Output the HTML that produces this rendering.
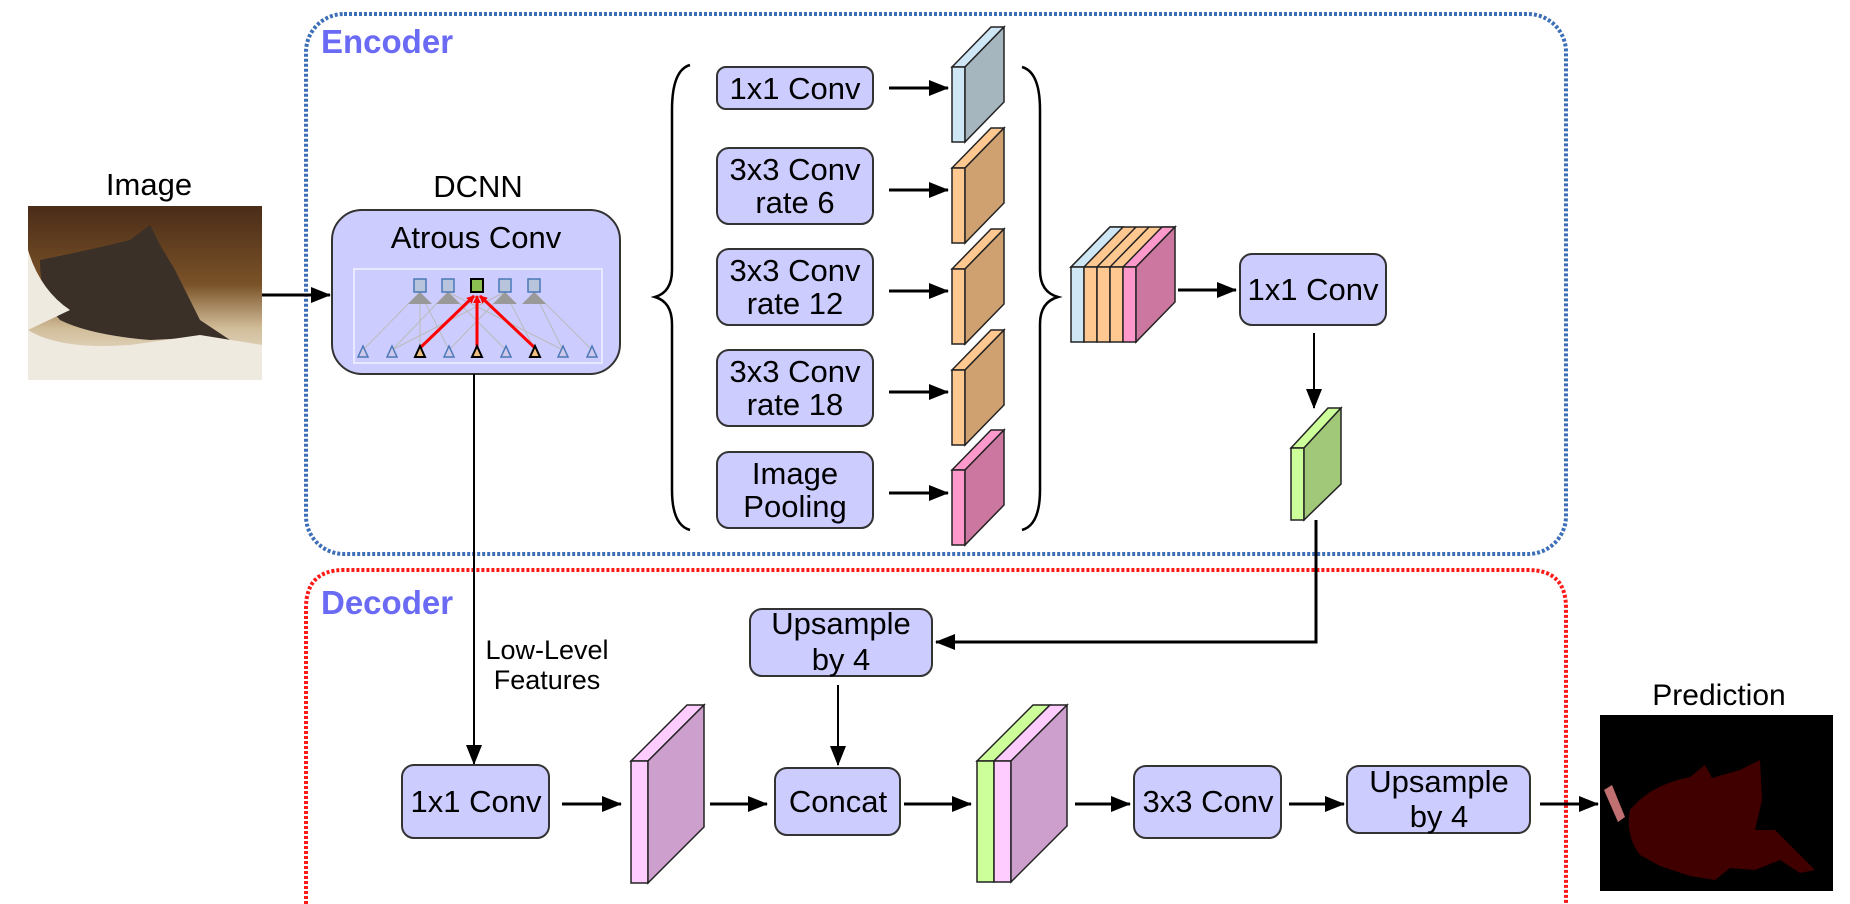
<!DOCTYPE html>
<html><head><meta charset="utf-8"><style>
html,body{margin:0;padding:0;background:#fff;}
svg{display:block;}
text{font-family:"Liberation Sans",sans-serif;}
</style></head><body>
<svg width="1850" height="904" viewBox="0 0 1850 904" xmlns="http://www.w3.org/2000/svg">
<defs>
<marker id="ab" markerWidth="20" markerHeight="16" refX="19" refY="8" orient="auto" markerUnits="userSpaceOnUse">
<path d="M0,0 L20,8 L0,16 z" fill="#000"/></marker>
<marker id="ar" markerWidth="8" markerHeight="8" refX="7" refY="4" orient="auto" markerUnits="userSpaceOnUse">
<path d="M0,0 L8,4 L0,8 z" fill="#f00"/></marker>
</defs>

<!-- Encoder / Decoder borders -->
<rect x="306" y="14" width="1260" height="540" rx="38" fill="none" stroke="#3d6fb8" stroke-width="4" stroke-dasharray="3 2"/>
<path d="M306,904 L306,608 Q306,570 344,570 L1528,570 Q1566,570 1566,608 L1566,904" fill="none" stroke="#ff1a1a" stroke-width="4" stroke-dasharray="3 2"/>
<text x="321" y="53" font-size="33" font-weight="bold" fill="#6a6af5">Encoder</text>
<text x="321" y="614" font-size="33" font-weight="bold" fill="#6a6af5">Decoder</text>

<!-- Input image -->
<text x="149" y="195" font-size="31" text-anchor="middle">Image</text>
<defs><linearGradient id="cat" x1="0" y1="0" x2="0" y2="1">
<stop offset="0" stop-color="#4a2c18"/><stop offset="0.45" stop-color="#7a5228"/><stop offset="0.7" stop-color="#d0bc98"/><stop offset="1" stop-color="#f2eee4"/></linearGradient></defs>
<rect x="28" y="206" width="234" height="174" fill="url(#cat)"/>
<path d="M40,260 Q90,250 130,240 L150,225 L160,245 L175,270 Q190,300 200,320 L230,340 L215,348 L190,338 L150,340 Q90,335 60,320 Q40,300 40,260z" fill="#3a3028"/>
<path d="M28,330 Q60,350 130,345 L200,335 L262,345 L262,380 L28,380z" fill="#efeae0"/>
<path d="M28,250 Q40,290 70,310 L28,330z" fill="#efeae0"/>

<line x1="262" y1="295" x2="330" y2="295" stroke="#000" stroke-width="3" marker-end="url(#ab)"/>

<!-- DCNN -->
<text x="478" y="197" font-size="31" text-anchor="middle">DCNN</text>
<rect x="332" y="210" width="288" height="164" rx="30" fill="#ccccff" stroke="#333" stroke-width="2"/>
<text x="476" y="248" font-size="31" text-anchor="middle">Atrous Conv</text>
<rect x="354" y="269" width="248" height="94" fill="none" stroke="#e8e8ff" stroke-width="2"/>
<g stroke="#bbb" stroke-width="1">
<line x1="363" y1="350" x2="420" y2="292"/><line x1="392" y1="350" x2="448" y2="292"/><line x1="420" y1="350" x2="420" y2="292"/>
<line x1="449" y1="350" x2="505" y2="292"/><line x1="506" y1="350" x2="448" y2="292"/><line x1="535" y1="350" x2="505" y2="292"/>
<line x1="563" y1="350" x2="534" y2="292"/><line x1="592" y1="350" x2="534" y2="292"/><line x1="449" y1="350" x2="420" y2="292"/>
<line x1="392" y1="350" x2="505" y2="292"/><line x1="563" y1="350" x2="448" y2="292"/>
</g>
<g fill="#999">
<path d="M408,304 L420,292 L432,304z"/><path d="M436,304 L448,292 L460,304z"/><path d="M493,304 L505,292 L517,304z"/><path d="M522,304 L534,292 L546,304z"/>
</g>
<g stroke="#f00" stroke-width="3">
<line x1="420" y1="348" x2="474" y2="296" marker-end="url(#ar)"/>
<line x1="477" y1="348" x2="477" y2="296" marker-end="url(#ar)"/>
<line x1="535" y1="348" x2="480" y2="296" marker-end="url(#ar)"/>
</g>
<g fill="#b8c4dc" stroke="#4a78b8" stroke-width="1.5">
<rect x="414" y="279" width="12" height="13"/><rect x="442" y="279" width="12" height="13"/><rect x="499" y="279" width="12" height="13"/><rect x="528" y="279" width="12" height="13"/>
</g>
<rect x="471" y="279" width="12" height="13" fill="#8cc050" stroke="#000" stroke-width="2"/>
<g fill="#d0c8e8" stroke="#4a78b8" stroke-width="1.5">
<path d="M363,346 L358,357 L368,357z"/><path d="M392,346 L387,357 L397,357z"/><path d="M449,346 L444,357 L454,357z"/>
<path d="M506,346 L501,357 L511,357z"/><path d="M563,346 L558,357 L568,357z"/><path d="M592,346 L587,357 L597,357z"/>
</g>
<g fill="#f0c080" stroke="#000" stroke-width="2">
<path d="M420,346 L415,357 L425,357z"/><path d="M477,346 L472,357 L482,357z"/><path d="M535,346 L530,357 L540,357z"/>
</g>

<!-- braces -->
<path d="M690,65 Q672,70 672,110 L672,270 Q672,292 655,297 Q672,302 672,324 L672,490 Q672,525 690,530" fill="none" stroke="#000" stroke-width="2.5"/>
<path d="M1022,67 Q1040,72 1040,110 L1040,270 Q1040,292 1058,297 Q1040,302 1040,324 L1040,490 Q1040,525 1022,530" fill="none" stroke="#000" stroke-width="2.5"/>

<!-- ASPP boxes -->
<g fill="#ccccff" stroke="#333" stroke-width="2">
<rect x="717" y="67" width="156" height="42" rx="9"/>
<rect x="717" y="148" width="156" height="76" rx="12"/>
<rect x="717" y="249" width="156" height="76" rx="12"/>
<rect x="717" y="350" width="156" height="76" rx="12"/>
<rect x="717" y="452" width="156" height="76" rx="12"/>
</g>
<g font-size="31" text-anchor="middle">
<text x="795" y="99">1x1 Conv</text>
<text x="795" y="180">3x3 Conv</text><text x="795" y="213">rate 6</text>
<text x="795" y="281">3x3 Conv</text><text x="795" y="314">rate 12</text>
<text x="795" y="382">3x3 Conv</text><text x="795" y="415">rate 18</text>
<text x="795" y="484">Image</text><text x="795" y="517">Pooling</text>
</g>
<g stroke="#000" stroke-width="3">
<line x1="889" y1="88" x2="948" y2="88" marker-end="url(#ab)"/>
<line x1="889" y1="190" x2="948" y2="190" marker-end="url(#ab)"/>
<line x1="889" y1="291" x2="948" y2="291" marker-end="url(#ab)"/>
<line x1="889" y1="392" x2="948" y2="392" marker-end="url(#ab)"/>
<line x1="889" y1="493" x2="948" y2="493" marker-end="url(#ab)"/>
</g>

<!-- slabs -->
<g stroke="#222" stroke-width="1.5">
<path d="M952,67 L991,27 L1004,27 L965,67z" fill="#cfe6f5"/><rect x="952" y="67" width="13" height="75" fill="#cfe6f5"/><path d="M965,67 L1004,27 L1004,102 L965,142z" fill="#a6b6bf"/>
<path d="M952,168 L991,128 L1004,128 L965,168z" fill="#ffc890"/><rect x="952" y="168" width="13" height="75" fill="#ffc890"/><path d="M965,168 L1004,128 L1004,203 L965,243z" fill="#cfa070"/>
<path d="M952,269 L991,229 L1004,229 L965,269z" fill="#ffc890"/><rect x="952" y="269" width="13" height="75" fill="#ffc890"/><path d="M965,269 L1004,229 L1004,304 L965,344z" fill="#cfa070"/>
<path d="M952,370 L991,330 L1004,330 L965,370z" fill="#ffc890"/><rect x="952" y="370" width="13" height="75" fill="#ffc890"/><path d="M965,370 L1004,330 L1004,405 L965,445z" fill="#cfa070"/>
<path d="M952,470 L991,430 L1004,430 L965,470z" fill="#ff99cc"/><rect x="952" y="470" width="13" height="75" fill="#ff99cc"/><path d="M965,470 L1004,430 L1004,505 L965,545z" fill="#cc77a0"/>
</g>

<!-- concat stack -->
<g stroke="#222" stroke-width="1.5">
<path d="M1071,267 L1110,227 L1175,227 L1136,267z" fill="#ffc890"/>
<path d="M1071,267 L1110,227 L1123,227 L1084,267z" fill="#cfe6f5"/>
<path d="M1123,267 L1162,227 L1175,227 L1136,267z" fill="#ff99cc"/>
<line x1="1097" y1="267" x2="1136" y2="227"/><line x1="1110" y1="267" x2="1149" y2="227"/>
<rect x="1071" y="267" width="13" height="75" fill="#cfe6f5"/>
<rect x="1084" y="267" width="13" height="75" fill="#ffc890"/>
<rect x="1097" y="267" width="13" height="75" fill="#ffc890"/>
<rect x="1110" y="267" width="13" height="75" fill="#ffc890"/>
<rect x="1123" y="267" width="13" height="75" fill="#ff99cc"/>
<path d="M1136,267 L1175,227 L1175,302 L1136,342z" fill="#cc77a0"/>
</g>
<line x1="1178" y1="290" x2="1236" y2="290" stroke="#000" stroke-width="3" marker-end="url(#ab)"/>
<rect x="1240" y="254" width="146" height="71" rx="12" fill="#ccccff" stroke="#333" stroke-width="2"/>
<text x="1313" y="300" font-size="31" text-anchor="middle">1x1 Conv</text>
<line x1="1314" y1="333" x2="1314" y2="408" stroke="#000" stroke-width="2" marker-end="url(#ab)"/>

<!-- green slab -->
<g stroke="#222" stroke-width="1.5">
<path d="M1291,448 L1328,408 L1341,408 L1304,448z" fill="#ccff99"/>
<rect x="1291" y="448" width="13" height="72" fill="#ccff99"/>
<path d="M1304,448 L1341,408 L1341,484 L1304,520z" fill="#a0c878"/>
</g>
<polyline points="1316,520 1316,642 936,642" fill="none" stroke="#000" stroke-width="3" marker-end="url(#ab)"/>

<!-- decoder -->
<line x1="474" y1="374" x2="474" y2="764" stroke="#000" stroke-width="2" marker-end="url(#ab)"/>
<text x="547" y="659" font-size="27" text-anchor="middle">Low-Level</text>
<text x="547" y="689" font-size="27" text-anchor="middle">Features</text>

<g fill="#ccccff" stroke="#333" stroke-width="2">
<rect x="750" y="609" width="182" height="67" rx="12"/>
<rect x="775" y="768" width="125" height="67" rx="12"/>
<rect x="402" y="765" width="147" height="73" rx="12"/>
<rect x="1134" y="766" width="147" height="72" rx="12"/>
<rect x="1347" y="766" width="183" height="67" rx="12"/>
</g>
<g font-size="31" text-anchor="middle">
<text x="841" y="634">Upsample</text><text x="841" y="670">by 4</text>
<text x="838" y="812">Concat</text>
<text x="476" y="812">1x1 Conv</text>
<text x="1208" y="812">3x3 Conv</text>
<text x="1439" y="792">Upsample</text><text x="1439" y="827">by 4</text>
</g>
<line x1="838" y1="685" x2="838" y2="765" stroke="#000" stroke-width="2" marker-end="url(#ab)"/>

<g stroke="#000" stroke-width="3">
<line x1="562" y1="804" x2="621" y2="804" marker-end="url(#ab)"/>
<line x1="710" y1="804" x2="767" y2="804" marker-end="url(#ab)"/>
<line x1="904" y1="804" x2="971" y2="804" marker-end="url(#ab)"/>
<line x1="1075" y1="804" x2="1130" y2="804" marker-end="url(#ab)"/>
<line x1="1289" y1="804" x2="1344" y2="804" marker-end="url(#ab)"/>
<line x1="1540" y1="804" x2="1598" y2="804" marker-end="url(#ab)"/>
</g>

<!-- pink slab -->
<g stroke="#222" stroke-width="1.5">
<path d="M631,761 L687,705 L704,705 L648,761z" fill="#ffccff"/>
<rect x="631" y="761" width="17" height="122" fill="#ffccff"/>
<path d="M648,761 L704,705 L704,827 L648,883z" fill="#cc9fcc"/>
</g>
<!-- green+pink stack -->
<g stroke="#222" stroke-width="1.5">
<path d="M977,761 L1033,705 L1050,705 L994,761z" fill="#ccff99"/>
<path d="M994,761 L1050,705 L1067,705 L1011,761z" fill="#ffccff"/>
<rect x="977" y="761" width="17" height="121" fill="#ccff99"/>
<rect x="994" y="761" width="17" height="121" fill="#ffccff"/>
<path d="M1011,761 L1067,705 L1067,826 L1011,882z" fill="#cc9fcc"/>
</g>

<!-- prediction -->
<text x="1719" y="705" font-size="30" text-anchor="middle">Prediction</text>
<rect x="1600" y="715" width="233" height="176" fill="#000"/>
<path d="M1630,810 Q1650,785 1690,777 L1705,765 L1712,778 L1740,770 L1760,760 L1762,800 L1755,830 L1775,830 L1790,845 L1815,870 L1800,873 L1780,860 L1755,870 L1730,868 L1715,880 L1690,876 L1660,866 L1640,855 Q1625,835 1630,810z" fill="#400000"/>
<path d="M1604,790 L1612,785 L1625,817 L1618,822z" fill="#c07070"/>
</svg>
</body></html>
